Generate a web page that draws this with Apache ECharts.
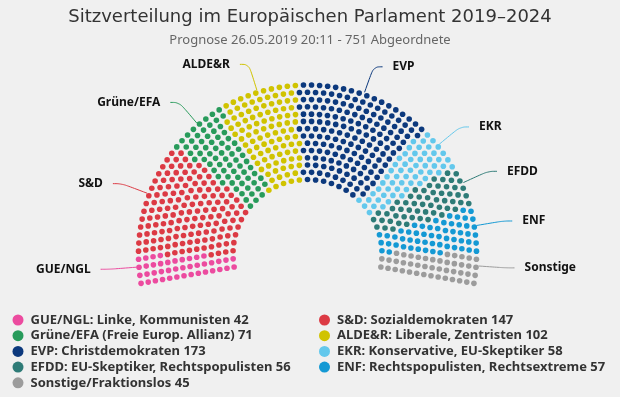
<!DOCTYPE html>
<html><head><meta charset="utf-8">
<script src="https://cdn.jsdelivr.net/npm/echarts@6/dist/echarts.min.js"></script>
<style>html,body{margin:0;padding:0;background:#f0f0f0}#c{width:620px;height:397px}</style>
</head><body><div id="c"></div>
<script>
// ---- data ----
const parties = ['GUE/NGL','S&D','Grüne/EFA','ALDE&R','EVP','EKR','EFDD','ENF','Sonstige'];
const descriptions = ['GUE/NGL: Linke, Kommunisten','S&D: Sozialdemokraten','Grüne/EFA (Freie Europ. Allianz)','ALDE&R: Liberale, Zentristen','EVP: Christdemokraten','EKR: Konservative, EU-Skeptiker','EFDD: EU-Skeptiker, Rechtspopulisten','ENF: Rechtspopulisten, Rechtsextreme','Sonstige/Fraktionslos'];
const seats = [42,147,71,102,173,58,56,57,45];
const colors = ['#ec4b9f','#dc3a44','#289b5b','#d0c300','#0c397d','#63c8ec','#2e7b77','#1499d4','#9c9c9c'];
const legendLeft = ['GUE/NGL','Grüne/EFA','EVP','EFDD','Sonstige'];
const legendRight = ['S&D','ALDE&R','EKR','ENF'];
const titleText = 'Sitzverteilung im Europäischen Parlament 2019–2024';
const subtitleText = 'Prognose 26.05.2019 20:11 - 751 Abgeordnete';

// ---- layout of the hemicycle (Highcharts-style item layout) ----
const ROWS = 14, INNER_R = 74.5, OUTER_R = 169, START = -100, END = 100;
const CX = 307.5, CY = 254;
const total = seats.reduce((a, b) => a + b, 0);
const radii = [];
for (let i = 0; i < ROWS; i++) radii.push(INNER_R + i * (OUTER_R - INNER_R) / (ROWS - 1));
const sumR = radii.reduce((a, b) => a + b, 0);
const colTotal = total - ROWS;
const raw = radii.map(r => colTotal * r / sumR);
const cc = raw.map(Math.floor);
let rem = colTotal - cc.reduce((a, b) => a + b, 0);
raw.map((v, i) => [v - Math.floor(v), i]).sort((a, b) => b[0] - a[0]).slice(0, rem).forEach(([, i]) => cc[i]++);
const slots = [];
radii.forEach((r, i) => {
  for (let j = 0; j <= cc[i]; j++) slots.push({ r: r, a: START + j * (END - START) / cc[i] });
});
slots.sort((p, q) => (p.a - q.a) || (q.r - p.r));

let idx = 0;
const dotSeries = parties.map((p, k) => {
  const d = slots.slice(idx, idx + seats[k]).map(s => [s.r, s.a]);
  idx += seats[k];
  return {
    type: 'scatter', name: p, coordinateSystem: 'polar', data: d,
    symbol: 'circle', symbolSize: 5.6, silent: true,
    itemStyle: { color: colors[k], opacity: 1 }, emphasis: { disabled: true }
  };
});

const FONT = 'Noto Sans';
const legendFmt = name => { const i = parties.indexOf(name); return descriptions[i] + ' ' + seats[i]; };
const legendBase = {
  orient: 'vertical', itemWidth: 15, itemHeight: 11, itemGap: 2.7, icon: 'circle', padding: 0,
  height: 150, selectedMode: false, formatter: legendFmt,
  textStyle: { fontFamily: FONT, fontSize: 13, fontWeight: 'bold', color: '#333', lineHeight: 11 }
};

const chart = echarts.init(document.getElementById('c'));
chart.setOption({
  backgroundColor: '#f0f0f0',
  animation: false,
  title: [
    { text: titleText, left: 'center', top: 6.5, padding: 0,
      textStyle: { fontFamily: 'DejaVu Sans', fontSize: 18, fontWeight: 'normal', color: '#333', lineHeight: 21 } },
    { text: subtitleText, left: 'center', top: 33, padding: 0,
      textStyle: { fontFamily: FONT, fontSize: 13, fontWeight: 'normal', color: '#666', lineHeight: 15 } }
  ],
  legend: [
    Object.assign({}, legendBase, { left: 12.5, top: 313.5, data: legendLeft }),
    Object.assign({}, legendBase, { left: 319, top: 313.5, data: legendRight })
  ],
  polar: { center: [CX, CY], radius: 200 },
  angleAxis: { type: 'value', min: -180, max: 180, startAngle: 270, clockwise: true, show: false },
  radiusAxis: { type: 'value', min: 0, max: 200, show: false },
  series: dotSeries.concat([{
    type: 'pie', center: [CX, CY], radius: [INNER_R - 3, OUTER_R + 2.5],
    startAngle: 190, endAngle: -10, clockwise: true, silent: true,
    avoidLabelOverlap: false, emphasis: { disabled: true },
    label: { show: true, position: 'outside', fontFamily: FONT, fontSize: 12, fontWeight: 'bold', color: '#111', distanceToLabelLine: 10 },
    labelLine: { show: true, length: 27, length2: 9, smooth: 0.4, lineStyle: { width: 1 } },
    data: parties.map((p, i) => ({
      name: p, value: seats[i],
      itemStyle: { color: 'rgba(0,0,0,0)' },
      labelLine: { lineStyle: { color: colors[i] } }
    }))
  }])
});
</script>
</body></html>
